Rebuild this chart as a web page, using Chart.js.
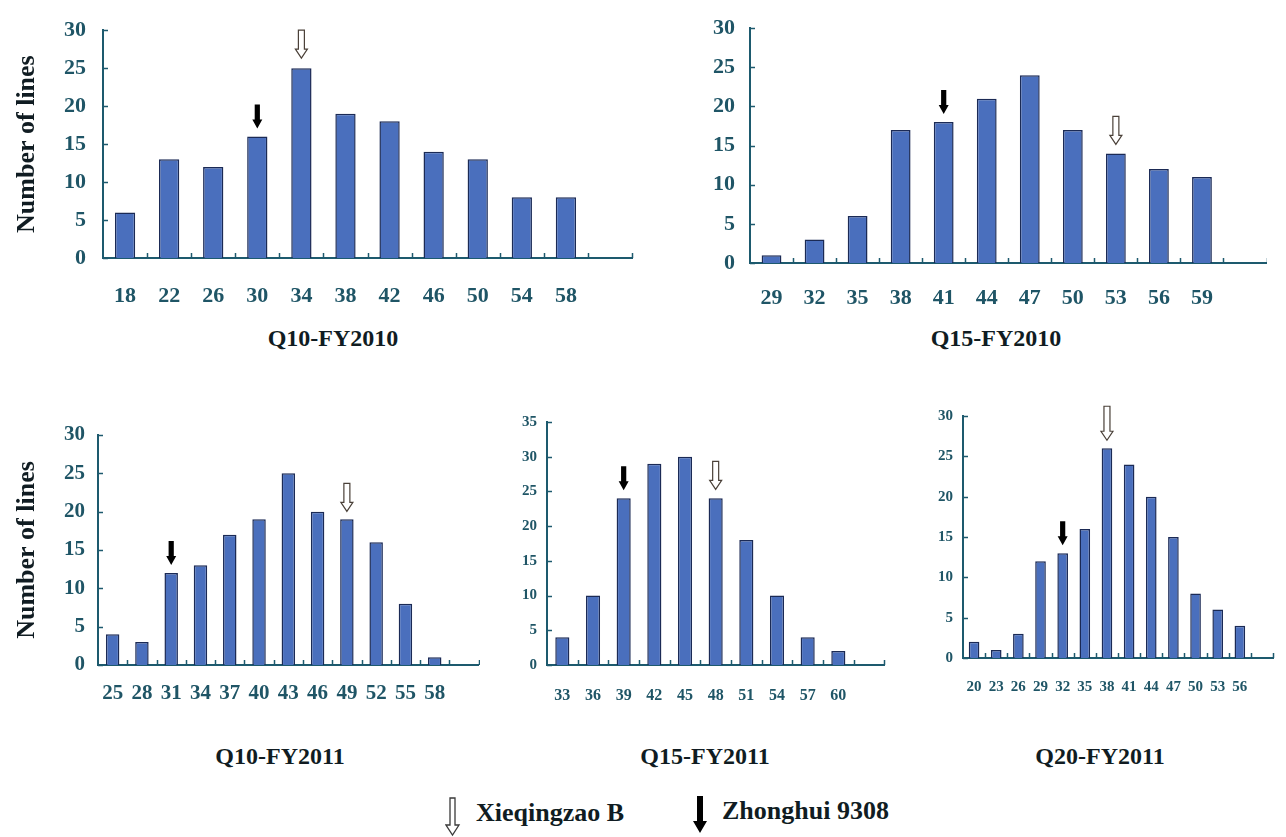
<!DOCTYPE html>
<html>
<head>
<meta charset="utf-8">
<script src="https://cdn.jsdelivr.net/npm/chart.js@4/dist/chart.umd.min.js"></script>
<style>
  html, body { margin: 0; padding: 0; background: #ffffff; }
  body { width: 1286px; height: 837px; position: relative; overflow: hidden; }
  canvas { position: absolute; }
  .ttl { position: absolute; font-family: "Liberation Serif", "Times New Roman", serif; font-weight: bold;
         font-size: 24px; color: #101c22; transform: translate(-50%, -50%); white-space: nowrap; }
  .leg { position: absolute; font-family: "Liberation Serif", "Times New Roman", serif; font-weight: bold;
         font-size: 26px; color: #101c22; white-space: nowrap; }
  svg { position: absolute; }
</style>
</head>
<body>
<canvas id="c1" width="623" height="320" style="left:12px;top:0px"></canvas>
<canvas id="c2" width="617" height="320" style="left:650px;top:0px"></canvas>
<canvas id="c3" width="468" height="310" style="left:12px;top:400px"></canvas>
<canvas id="c4" width="400" height="310" style="left:490px;top:400px"></canvas>
<canvas id="c5" width="382" height="320" style="left:900px;top:390px"></canvas>

<div class="ttl" style="left:333px;top:338px">Q10-FY2010</div>
<div class="ttl" style="left:996px;top:338px">Q15-FY2010</div>
<div class="ttl" style="left:280px;top:756px">Q10-FY2011</div>
<div class="ttl" style="left:705px;top:756px">Q15-FY2011</div>
<div class="ttl" style="left:1100px;top:756px">Q20-FY2011</div>

<svg width="16" height="40" style="left:445px;top:797px">
  <polygon points="5,1 10,1 10,28 14,28 7.5,38 1,28 5,28" fill="#ffffff" stroke="#3a3a3a" stroke-width="1.3"/>
</svg>
<div class="leg" style="left:476px;top:798px">Xieqingzao B</div>
<svg width="16" height="40" style="left:692px;top:795px">
  <polygon points="5,1 11,1 11,26 15,26 8,38 1,26 5,26" fill="#000000"/>
</svg>
<div class="leg" style="left:722px;top:796px">Zhonghui 9308</div>

<script>
// ---------------- data ----------------
const q10_2010_labels = ['18','22','26','30','34','38','42','46','50','54','58',''];
const q10_2010_values = [6, 13, 12, 16, 25, 19, 18, 14, 13, 8, 8];
const q10_2010_zhonghui = '30';
const q10_2010_xieqingzao = '34';

const q15_2010_labels = ['29','32','35','38','41','44','47','50','53','56','59',''];
const q15_2010_values = [1, 3, 6, 17, 18, 21, 24, 17, 14, 12, 11];
const q15_2010_zhonghui = '41';
const q15_2010_xieqingzao = '53';

const q10_2011_labels = ['25','28','31','34','37','40','43','46','49','52','55','58',''];
const q10_2011_values = [4, 3, 12, 13, 17, 19, 25, 20, 19, 16, 8, 1];
const q10_2011_zhonghui = '31';
const q10_2011_xieqingzao = '49';

const q15_2011_labels = ['33','36','39','42','45','48','51','54','57','60',''];
const q15_2011_values = [4, 10, 24, 29, 30, 24, 18, 10, 4, 2];
const q15_2011_zhonghui = '39';
const q15_2011_xieqingzao = '48';

const q20_2011_labels = ['20','23','26','29','32','35','38','41','44','47','50','53','56',''];
const q20_2011_values = [2, 1, 3, 12, 13, 16, 26, 24, 20, 15, 8, 6, 4];
const q20_2011_zhonghui = '32';
const q20_2011_xieqingzao = '38';

const yTicks30 = [0, 5, 10, 15, 20, 25, 30];
const yTicks35 = [0, 5, 10, 15, 20, 25, 30, 35];
const yAxisTitle = 'Number of lines';

// ---------------- styling ----------------
const AXIS = '#1d5a6e';
const TICKTXT = '#1f5566';
const BAR = '#4a6fbd';
const BAREDGE = '#1b2a55';
const TICKFONT = '"Liberation Serif", "Times New Roman", serif';

const markPlugin = {
  id: 'marks',
  afterDraw(chart) {
    const { ctx, chartArea: a } = chart;
    const x = chart.scales.x, y = chart.scales.y;
    const o = chart.options.plugins.marks || {};
    ctx.save();
    ctx.strokeStyle = AXIS;
    ctx.lineWidth = 1.5;
    const n = x.getLabels().length;
    for (let i = 1; i <= n; i++) {
      const px = Math.round(x.getPixelForValue(i - 0.5)) + 0.5;
      ctx.beginPath(); ctx.moveTo(px, a.bottom); ctx.lineTo(px, a.bottom - 5); ctx.stroke();
    }
    y.ticks.forEach(t => {
      const py = Math.round(y.getPixelForValue(t.value)) + 0.5;
      ctx.beginPath(); ctx.moveTo(a.left, py); ctx.lineTo(a.left + 5, py); ctx.stroke();
    });
    const meta = chart.getDatasetMeta(0);
    const labels = x.getLabels();
    (o.arrows || []).forEach(m => {
      const idx = labels.indexOf(m.label);
      if (idx < 0) return;
      const bar = meta.data[idx];
      const cx = bar.x, tip = bar.y - (m.gap || 8);
      if (m.kind === 'solid') {
        const L = 24, hw = 5, sw = 2.6, hl = 9;
        ctx.fillStyle = '#000';
        ctx.beginPath();
        ctx.moveTo(cx - sw, tip - L); ctx.lineTo(cx + sw, tip - L);
        ctx.lineTo(cx + sw, tip - hl); ctx.lineTo(cx + hw, tip - hl);
        ctx.lineTo(cx, tip); ctx.lineTo(cx - hw, tip - hl);
        ctx.lineTo(cx - sw, tip - hl); ctx.closePath(); ctx.fill();
      } else {
        const L = m.len || 28, hw = 6, sw = 3, hl = 9;
        ctx.fillStyle = '#fff'; ctx.strokeStyle = '#4a4038'; ctx.lineWidth = 1.2;
        ctx.beginPath();
        ctx.moveTo(cx - sw, tip - L); ctx.lineTo(cx + sw, tip - L);
        ctx.lineTo(cx + sw, tip - hl); ctx.lineTo(cx + hw, tip - hl);
        ctx.lineTo(cx, tip); ctx.lineTo(cx - hw, tip - hl);
        ctx.lineTo(cx - sw, tip - hl); ctx.closePath(); ctx.fill(); ctx.stroke();
      }
    });
    ctx.restore();
  }
};

function makeChart(id, g) {
  return new Chart(document.getElementById(id), {
    type: 'bar',
    data: {
      labels: g.labels,
      datasets: [{
        data: g.values,
        backgroundColor: BAR,
        borderColor: BAREDGE,
        borderWidth: 1.5,
        categoryPercentage: 1,
        barPercentage: g.barPct
      }]
    },
    options: {
      responsive: false,
      animation: false,
      events: [],
      layout: { padding: { top: g.padTop, left: 0, right: 0, bottom: 0 } },
      plugins: {
        legend: { display: false },
        tooltip: { enabled: false },
        marks: { arrows: g.arrows }
      },
      scales: {
        x: {
          type: 'category',
          offset: true,
          grid: { display: false, drawTicks: false },
          border: { display: true, color: AXIS, width: 2 },
          ticks: { color: TICKTXT, autoSkip: false, maxRotation: 0, padding: g.xPad,
                   font: { family: TICKFONT, size: g.xFont, weight: 'bold' } },
          afterFit: s => { s.height = g.xH; }
        },
        y: {
          min: 0, max: g.yMax,
          afterBuildTicks: s => { s.ticks = g.yTicks.map(v => ({ value: v })); },
          grid: { display: false, drawTicks: false },
          border: { display: true, color: AXIS, width: 2 },
          ticks: { color: TICKTXT, padding: g.yPad,
                   font: { family: TICKFONT, size: g.yFont, weight: 'bold' } },
          title: { display: !!g.yTitle, text: g.yTitle || '', color: '#101c22', padding: 0,
                   font: { family: '"Liberation Serif", "Times New Roman", serif', size: 26, weight: 'bold' } },
          afterFit: s => { s.width = g.yW; }
        }
      }
    },
    plugins: [markPlugin]
  });
}

makeChart('c1', { labels: q10_2010_labels, values: q10_2010_values, yMax: 30, yTicks: yTicks30,
  padTop: 18, xH: 62, yW: 91, xPad: 25, yPad: 17, xFont: 22, yFont: 22, barPct: 0.46, yTitle: yAxisTitle,
  arrows: [{ label: q10_2010_zhonghui, kind: 'solid' }, { label: q10_2010_xieqingzao, kind: 'hollow', gap: 10 }] });

makeChart('c2', { labels: q15_2010_labels, values: q15_2010_values, yMax: 30, yTicks: yTicks30,
  padTop: 22, xH: 57, yW: 100, xPad: 22, yPad: 15, xFont: 22, yFont: 22, barPct: 0.46,
  arrows: [{ label: q15_2010_zhonghui, kind: 'solid' }, { label: q15_2010_xieqingzao, kind: 'hollow', gap: 9 }] });

makeChart('c3', { labels: q10_2011_labels, values: q10_2011_values, yMax: 30, yTicks: yTicks30,
  padTop: 35, xH: 45, yW: 86, xPad: 16, yPad: 13, xFont: 21, yFont: 21, barPct: 0.46, yTitle: yAxisTitle,
  arrows: [{ label: q10_2011_zhonghui, kind: 'solid' }, { label: q10_2011_xieqingzao, kind: 'hollow', gap: 8 }] });

makeChart('c4', { labels: q15_2011_labels, values: q15_2011_values, yMax: 35, yTicks: yTicks35,
  padTop: 22, xH: 45, yW: 57, xPad: 21, yPad: 10, xFont: 16, yFont: 15, barPct: 0.46,
  arrows: [{ label: q15_2011_zhonghui, kind: 'solid' }, { label: q15_2011_xieqingzao, kind: 'hollow', gap: 9 }] });

makeChart('c5', { labels: q20_2011_labels, values: q20_2011_values, yMax: 30, yTicks: yTicks30,
  padTop: 26, xH: 52, yW: 63, xPad: 20, yPad: 10, xFont: 15, yFont: 15, barPct: 0.48,
  arrows: [{ label: q20_2011_zhonghui, kind: 'solid' }, { label: q20_2011_xieqingzao, kind: 'hollow', gap: 8, len: 34 }] });
</script>
</body>
</html>
